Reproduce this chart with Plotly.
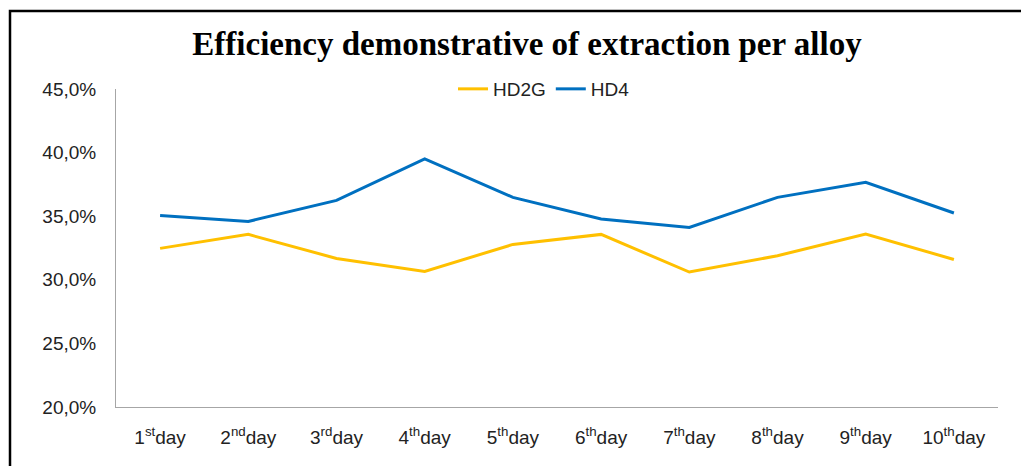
import plotly.graph_objects as go

days = ["1<sup>st</sup>day", "2<sup>nd</sup>day", "3<sup>rd</sup>day", "4<sup>th</sup>day", "5<sup>th</sup>day",
        "6<sup>th</sup>day", "7<sup>th</sup>day", "8<sup>th</sup>day", "9<sup>th</sup>day", "10<sup>th</sup>day"]
hd2g = [0.3247, 0.3357, 0.3168, 0.3066, 0.3278, 0.3357, 0.3061, 0.3189, 0.3360, 0.3160]
hd4 = [0.3506, 0.3459, 0.3624, 0.3950, 0.3648, 0.3478, 0.3412, 0.3648, 0.3766, 0.3525]
y_ticks = [0.20, 0.25, 0.30, 0.35, 0.40, 0.45]
y_labels = ["20,0%", "25,0%", "30,0%", "35,0%", "40,0%", "45,0%"]

# page body adds an 8px offset; compensate in margins
OFF = 8

fig = go.Figure()
fig.add_trace(go.Scatter(x=days, y=hd2g, mode="lines", name="HD2G",
                         line=dict(color="#FFC000", width=3)))
fig.add_trace(go.Scatter(x=days, y=hd4, mode="lines", name="HD4",
                         line=dict(color="#0070C0", width=3)))

fig.update_layout(
    width=1029, height=466,
    margin=dict(l=116 - OFF, r=31 + OFF, t=89 - OFF, b=59 + OFF, autoexpand=False),
    paper_bgcolor="white", plot_bgcolor="white",
    title=dict(text="<b>Efficiency demonstrative of extraction per alloy</b>",
               font=dict(family="Liberation Serif", size=33, color="black"),
               x=(527 - OFF) / 1029, xref="container", xanchor="center",
               y=1 - (43 - OFF) / 466, yref="container", yanchor="middle"),
    legend=dict(orientation="h", x=(544 - 116) / 882, xanchor="center", y=1.0, yanchor="middle",
                font=dict(family="Liberation Sans", size=19, color="#222222"),
                bgcolor="rgba(0,0,0,0)", itemwidth=30),
    font=dict(family="Liberation Sans", size=19, color="#222222"),
    xaxis=dict(type="category", range=[-0.5, 9.5], showline=True, linecolor="#A6A6A6",
               linewidth=1, showgrid=False, ticks="", tickfont=dict(size=19),
               automargin=False, ticklabelstandoff=13),
    yaxis=dict(range=[0.20, 0.45], tickvals=y_ticks, ticktext=y_labels,
               showline=True, linecolor="#A6A6A6", linewidth=1, showgrid=False,
               ticks="", tickfont=dict(size=19), zeroline=False,
               automargin=False, ticklabelstandoff=15),
    showlegend=True,
)

# outer frame (left and top edges visible, right/bottom outside the view)
fig.add_shape(type="rect", xref="paper", yref="paper",
              x0=(10 - 116) / 882, x1=(1045 - 116) / 882,
              y0=(407 - 480) / 318, y1=(407 - 11) / 318,
              line=dict(color="black", width=2.5), fillcolor="rgba(0,0,0,0)", layer="above")

fig.write_html("out.html")
